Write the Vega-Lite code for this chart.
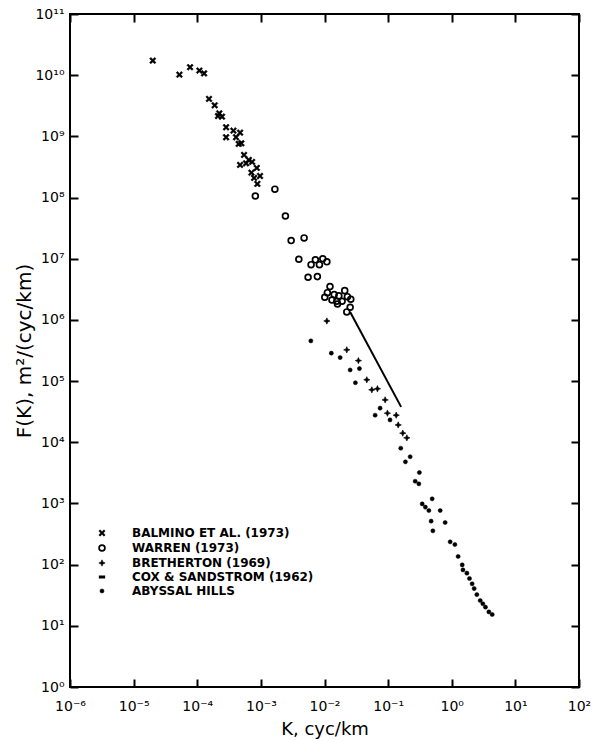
{
  "$schema": "https://vega.github.io/schema/vega-lite/v6.json",
  "autosize": {"type": "none"},
  "padding": {"left": 70, "top": 14, "right": 20, "bottom": 54},
  "width": 509,
  "height": 673,
  "background": "white",
  "config": {
    "view": {"stroke": "black", "strokeWidth": 2},
    "font": "DejaVu Sans",
    "axis": {
      "grid": false, "domain": false, "tickColor": "black", "tickWidth": 2, "tickSize": -8,
      "labelColor": "black", "titleColor": "black", "labelFont": "DejaVu Sans", "titleFont": "DejaVu Sans",
      "labelFontSize": 14, "titleFontSize": 18, "titleFontWeight": "normal"
    }
  },
  "datasets": {
    "pts": [
      {"series": "BALMINO ET AL. (1973)", "k": 2.0e-5, "f": 1.73e10},
      {"series": "BALMINO ET AL. (1973)", "k": 5.24e-5, "f": 1.02e10},
      {"series": "BALMINO ET AL. (1973)", "k": 7.71e-5, "f": 1.35e10},
      {"series": "BALMINO ET AL. (1973)", "k": 1.08e-4, "f": 1.19e10},
      {"series": "BALMINO ET AL. (1973)", "k": 1.28e-4, "f": 1.07e10},
      {"series": "BALMINO ET AL. (1973)", "k": 1.53e-4, "f": 4.09e9},
      {"series": "BALMINO ET AL. (1973)", "k": 1.88e-4, "f": 3.22e9},
      {"series": "BALMINO ET AL. (1973)", "k": 2.22e-4, "f": 2.38e9},
      {"series": "BALMINO ET AL. (1973)", "k": 2.45e-4, "f": 2.10e9},
      {"series": "BALMINO ET AL. (1973)", "k": 2.12e-4, "f": 2.15e9},
      {"series": "BALMINO ET AL. (1973)", "k": 2.84e-4, "f": 1.41e9},
      {"series": "BALMINO ET AL. (1973)", "k": 3.70e-4, "f": 1.24e9},
      {"series": "BALMINO ET AL. (1973)", "k": 4.71e-4, "f": 1.15e9},
      {"series": "BALMINO ET AL. (1973)", "k": 2.84e-4, "f": 9.67e8},
      {"series": "BALMINO ET AL. (1973)", "k": 4.07e-4, "f": 9.67e8},
      {"series": "BALMINO ET AL. (1973)", "k": 4.49e-4, "f": 7.52e8},
      {"series": "BALMINO ET AL. (1973)", "k": 4.93e-4, "f": 7.71e8},
      {"series": "BALMINO ET AL. (1973)", "k": 5.44e-4, "f": 4.97e8},
      {"series": "BALMINO ET AL. (1973)", "k": 6.46e-4, "f": 4.12e8},
      {"series": "BALMINO ET AL. (1973)", "k": 4.71e-4, "f": 3.41e8},
      {"series": "BALMINO ET AL. (1973)", "k": 5.85e-4, "f": 3.63e8},
      {"series": "BALMINO ET AL. (1973)", "k": 7.28e-4, "f": 3.82e8},
      {"series": "BALMINO ET AL. (1973)", "k": 8.63e-4, "f": 3.05e8},
      {"series": "BALMINO ET AL. (1973)", "k": 7.10e-4, "f": 2.55e8},
      {"series": "BALMINO ET AL. (1973)", "k": 9.70e-4, "f": 2.25e8},
      {"series": "BALMINO ET AL. (1973)", "k": 7.82e-4, "f": 2.09e8},
      {"series": "BALMINO ET AL. (1973)", "k": 8.81e-4, "f": 1.67e8},
      {"series": "WARREN (1973)", "k": 8.18e-4, "f": 1.06e8},
      {"series": "WARREN (1973)", "k": 1.66e-3, "f": 1.37e8},
      {"series": "WARREN (1973)", "k": 2.43e-3, "f": 5.0e7},
      {"series": "WARREN (1973)", "k": 2.99e-3, "f": 1.98e7},
      {"series": "WARREN (1973)", "k": 4.78e-3, "f": 2.19e7},
      {"series": "WARREN (1973)", "k": 3.95e-3, "f": 9.8e6},
      {"series": "WARREN (1973)", "k": 6.15e-3, "f": 8.0e6},
      {"series": "WARREN (1973)", "k": 7.19e-3, "f": 9.6e6},
      {"series": "WARREN (1973)", "k": 8.32e-3, "f": 8.0e6},
      {"series": "WARREN (1973)", "k": 9.40e-3, "f": 1.0e7},
      {"series": "WARREN (1973)", "k": 1.09e-2, "f": 8.9e6},
      {"series": "WARREN (1973)", "k": 5.52e-3, "f": 4.99e6},
      {"series": "WARREN (1973)", "k": 7.73e-3, "f": 5.1e6},
      {"series": "WARREN (1973)", "k": 1.22e-2, "f": 3.5e6},
      {"series": "WARREN (1973)", "k": 1.11e-2, "f": 2.79e6},
      {"series": "WARREN (1973)", "k": 1.01e-2, "f": 2.35e6},
      {"series": "WARREN (1973)", "k": 1.42e-2, "f": 2.59e6},
      {"series": "WARREN (1973)", "k": 1.68e-2, "f": 2.47e6},
      {"series": "WARREN (1973)", "k": 2.08e-2, "f": 3.01e6},
      {"series": "WARREN (1973)", "k": 1.56e-2, "f": 2.02e6},
      {"series": "WARREN (1973)", "k": 1.31e-2, "f": 2.12e6},
      {"series": "WARREN (1973)", "k": 1.89e-2, "f": 2.02e6},
      {"series": "WARREN (1973)", "k": 2.29e-2, "f": 2.4e6},
      {"series": "WARREN (1973)", "k": 2.59e-2, "f": 2.18e6},
      {"series": "WARREN (1973)", "k": 1.60e-2, "f": 1.82e6},
      {"series": "WARREN (1973)", "k": 2.53e-2, "f": 1.61e6},
      {"series": "WARREN (1973)", "k": 2.24e-2, "f": 1.35e6},
      {"series": "BRETHERTON (1969)", "k": 1.09e-2, "f": 9.6e5},
      {"series": "BRETHERTON (1969)", "k": 2.24e-2, "f": 3.24e5},
      {"series": "BRETHERTON (1969)", "k": 3.41e-2, "f": 2.16e5},
      {"series": "BRETHERTON (1969)", "k": 4.62e-2, "f": 1.05e5},
      {"series": "BRETHERTON (1969)", "k": 5.55e-2, "f": 7.2e4},
      {"series": "BRETHERTON (1969)", "k": 6.79e-2, "f": 7.5e4},
      {"series": "BRETHERTON (1969)", "k": 8.97e-2, "f": 4.93e4},
      {"series": "BRETHERTON (1969)", "k": 9.75e-2, "f": 2.99e4},
      {"series": "BRETHERTON (1969)", "k": 0.134, "f": 2.77e4},
      {"series": "BRETHERTON (1969)", "k": 0.144, "f": 1.92e4},
      {"series": "BRETHERTON (1969)", "k": 0.170, "f": 1.41e4},
      {"series": "BRETHERTON (1969)", "k": 0.197, "f": 1.18e4},
      {"series": "ABYSSAL HILLS", "k": 6.10e-3, "f": 4.54e5},
      {"series": "ABYSSAL HILLS", "k": 1.28e-2, "f": 2.86e5},
      {"series": "ABYSSAL HILLS", "k": 1.76e-2, "f": 2.42e5},
      {"series": "ABYSSAL HILLS", "k": 2.53e-2, "f": 1.52e5},
      {"series": "ABYSSAL HILLS", "k": 3.54e-2, "f": 1.60e5},
      {"series": "ABYSSAL HILLS", "k": 3.06e-2, "f": 9.4e4},
      {"series": "ABYSSAL HILLS", "k": 7.48e-2, "f": 3.61e4},
      {"series": "ABYSSAL HILLS", "k": 6.25e-2, "f": 2.77e4},
      {"series": "ABYSSAL HILLS", "k": 0.107, "f": 2.32e4},
      {"series": "ABYSSAL HILLS", "k": 0.158, "f": 8.0e3},
      {"series": "ABYSSAL HILLS", "k": 0.222, "f": 5.8e3},
      {"series": "ABYSSAL HILLS", "k": 0.187, "f": 4.79e3},
      {"series": "ABYSSAL HILLS", "k": 0.310, "f": 3.20e3},
      {"series": "ABYSSAL HILLS", "k": 0.266, "f": 2.31e3},
      {"series": "ABYSSAL HILLS", "k": 0.304, "f": 2.09e3},
      {"series": "ABYSSAL HILLS", "k": 0.492, "f": 1.19e3},
      {"series": "ABYSSAL HILLS", "k": 0.343, "f": 984},
      {"series": "ABYSSAL HILLS", "k": 0.385, "f": 871},
      {"series": "ABYSSAL HILLS", "k": 0.437, "f": 766},
      {"series": "ABYSSAL HILLS", "k": 0.658, "f": 766},
      {"series": "ABYSSAL HILLS", "k": 0.474, "f": 514},
      {"series": "ABYSSAL HILLS", "k": 0.787, "f": 488},
      {"series": "ABYSSAL HILLS", "k": 0.505, "f": 357},
      {"series": "ABYSSAL HILLS", "k": 0.944, "f": 236},
      {"series": "ABYSSAL HILLS", "k": 1.12, "f": 213},
      {"series": "ABYSSAL HILLS", "k": 1.26, "f": 136},
      {"series": "ABYSSAL HILLS", "k": 1.46, "f": 99},
      {"series": "ABYSSAL HILLS", "k": 1.50, "f": 82},
      {"series": "ABYSSAL HILLS", "k": 1.73, "f": 72.6},
      {"series": "ABYSSAL HILLS", "k": 1.90, "f": 59.3},
      {"series": "ABYSSAL HILLS", "k": 2.09, "f": 48.5},
      {"series": "ABYSSAL HILLS", "k": 2.25, "f": 40.6},
      {"series": "ABYSSAL HILLS", "k": 2.48, "f": 32.4},
      {"series": "ABYSSAL HILLS", "k": 2.80, "f": 25.9},
      {"series": "ABYSSAL HILLS", "k": 3.08, "f": 22.9},
      {"series": "ABYSSAL HILLS", "k": 3.39, "f": 20.2},
      {"series": "ABYSSAL HILLS", "k": 3.83, "f": 16.9},
      {"series": "ABYSSAL HILLS", "k": 4.32, "f": 15.3}
    ],
    "cox": [
      {"series": "COX & SANDSTROM (1962)", "k": 0.0253, "f": 1.35e6},
      {"series": "COX & SANDSTROM (1962)", "k": 0.160, "f": 3.79e4}
    ]
  },
  "layer": [
    {
      "data": {"name": "pts"},
      "mark": {"type": "point", "filled": true, "stroke": "black", "opacity": 1},
      "encoding": {
        "x": {
          "field": "k", "type": "quantitative",
          "scale": {"type": "log", "domain": [1e-6, 100], "nice": false},
          "axis": {
            "orient": "bottom", "title": "K, cyc/km", "titlePadding": 7, "labelPadding": 20,
            "values": [1e-6, 1e-5, 1e-4, 1e-3, 1e-2, 1e-1, 1, 10, 100],
            "labelExpr": "['10⁻⁶','10⁻⁵','10⁻⁴','10⁻³','10⁻²','10⁻¹','10⁰','10¹','10²'][round(log(datum.value)/LN10)+6]",
            "labelFlush": false, "labelOverlap": false
          }
        },
        "y": {
          "field": "f", "type": "quantitative",
          "scale": {"type": "log", "domain": [1, 1e11], "nice": false},
          "axis": {
            "orient": "left", "title": "F(K), m²/(cyc/km)", "titlePadding": 0, "titleFontSize": 20, "labelPadding": 14,
            "values": [1, 10, 100, 1e3, 1e4, 1e5, 1e6, 1e7, 1e8, 1e9, 1e10, 1e11],
            "labelExpr": "['10⁰','10¹','10²','10³','10⁴','10⁵','10⁶','10⁷','10⁸','10⁹','10¹⁰','10¹¹'][round(log(datum.value)/LN10)]",
            "labelFlush": false, "labelOverlap": false
          }
        },
        "shape": {
          "field": "series", "type": "nominal",
          "scale": {
            "domain": ["BALMINO ET AL. (1973)", "WARREN (1973)", "BRETHERTON (1969)", "COX & SANDSTROM (1962)", "ABYSSAL HILLS"],
            "range": ["M-1,-0.6L-0.6,-1L0,-0.4L0.6,-1L1,-0.6L0.4,0L1,0.6L0.6,1L0,0.4L-0.6,1L-1,0.6L-0.4,0Z", "circle", "M0,-1L0.3,-0.3L1,0L0.3,0.3L0,1L-0.3,0.3L-1,0L-0.3,-0.3Z", "stroke", "circle"]
          },
          "legend": {
            "title": null, "orient": "none", "legendX": 26, "legendY": 513,
            "labelFontSize": 12, "labelFontWeight": "bold", "labelFont": "DejaVu Sans", "labelColor": "black", "labelOffset": 24, "rowPadding": 2,
            "labelLimit": 400, "symbolStrokeColor": "black", "symbolOpacity": 1
          }
        },
        "fill": {
          "field": "series", "type": "nominal",
          "scale": {
            "domain": ["BALMINO ET AL. (1973)", "WARREN (1973)", "BRETHERTON (1969)", "COX & SANDSTROM (1962)", "ABYSSAL HILLS"],
            "range": ["black", "transparent", "black", "black", "black"]
          },
          "legend": {"title": null}
        },
        "size": {
          "field": "series", "type": "nominal",
          "scale": {
            "type": "ordinal",
            "domain": ["BALMINO ET AL. (1973)", "WARREN (1973)", "BRETHERTON (1969)", "COX & SANDSTROM (1962)", "ABYSSAL HILLS"],
            "range": [40, 34, 40, 40, 17]
          },
          "legend": {"title": null}
        },
        "strokeWidth": {
          "field": "series", "type": "nominal",
          "scale": {
            "type": "ordinal",
            "domain": ["BALMINO ET AL. (1973)", "WARREN (1973)", "BRETHERTON (1969)", "COX & SANDSTROM (1962)", "ABYSSAL HILLS"],
            "range": [0.6, 1.7, 0.6, 3, 0.5]
          },
          "legend": {"title": null}
        }
      }
    },
    {
      "data": {"name": "cox"},
      "mark": {"type": "line", "color": "black", "strokeWidth": 2},
      "encoding": {
        "x": {
          "field": "k", "type": "quantitative",
          "axis": {"orient": "top", "labels": false, "title": null, "values": [1e-6, 1e-5, 1e-4, 1e-3, 1e-2, 1e-1, 1, 10, 100]}
        },
        "y": {
          "field": "f", "type": "quantitative",
          "axis": {"orient": "right", "labels": false, "title": null, "values": [1, 10, 100, 1e3, 1e4, 1e5, 1e6, 1e7, 1e8, 1e9, 1e10, 1e11]}
        }
      }
    }
  ],
  "resolve": {"axis": {"x": "independent", "y": "independent"}}
}
